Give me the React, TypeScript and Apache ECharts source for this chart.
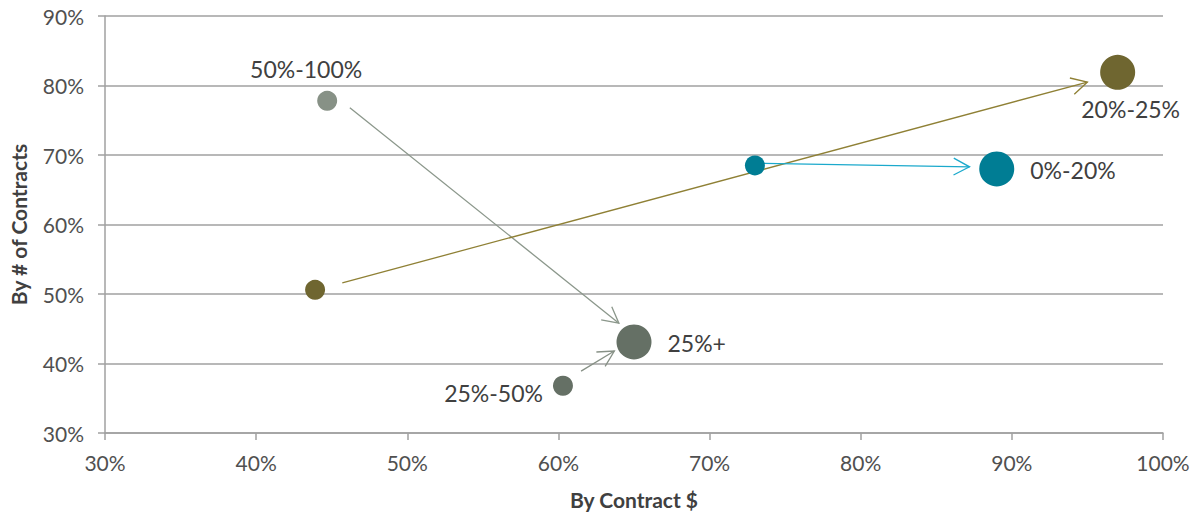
import React, { useEffect, useRef } from "react";
import * as echarts from "echarts";

// Bubble positions: share by contract $ (x) and by # of contracts (y), in %
const pointX = [44.7, 43.9, 73.0, 60.3, 89.0, 97.0, 65.0];
const pointY = [77.8, 50.6, 68.5, 36.8, 68.0, 81.9, 43.1];
const pointLabels = ["50%-100%", "", "", "25%-50%", "0%-20%", "20%-25%", "25%+"];

// Arrows showing the shift from one group to another (from -> to), in %
const arrowFromX = [46.2, 45.7, 73.6, 61.5];
const arrowFromY = [76.8, 51.6, 68.8, 38.9];
const arrowToX = [64.0, 95.0, 87.2, 63.7];
const arrowToY = [45.8, 80.5, 68.3, 41.8];

const xTicks = [30, 40, 50, 60, 70, 80, 90, 100];
const yTicks = [30, 40, 50, 60, 70, 80, 90];

const FONT = "Lato, 'Noto Sans', sans-serif";

const pointStyles = [
  { color: "#879186", size: 20, pos: "top", dist: 5, offset: [-21, -5] },
  { color: "#6f6630", size: 20, pos: "right", dist: 5, offset: [0, 0] },
  { color: "#007d94", size: 20, pos: "right", dist: 5, offset: [0, 0] },
  { color: "#657065", size: 20, pos: "left", dist: 10, offset: [0, 7] },
  { color: "#007d94", size: 35, pos: "right", dist: 16, offset: [0, 1] },
  { color: "#6f6630", size: 35, pos: "bottom", dist: 8, offset: [13, 0] },
  { color: "#657065", size: 35, pos: "right", dist: 16, offset: [0, 1] },
];

const arrowColors = ["#8b978b", "#8f8035", "#1ba9cc", "#879186"];

export default function App() {
  const ref = useRef<HTMLDivElement>(null);

  useEffect(() => {
    if (!ref.current) return;
    const chart = echarts.init(ref.current, null, { renderer: "svg" });

    const points = pointX.map((x, i) => ({
      value: [x, pointY[i]],
      symbolSize: pointStyles[i].size,
      itemStyle: { color: pointStyles[i].color, opacity: 1 },
      label: {
        show: pointLabels[i] !== "",
        formatter: pointLabels[i],
        position: pointStyles[i].pos,
        distance: pointStyles[i].dist,
        offset: pointStyles[i].offset,
        color: "#404040",
        fontSize: 23,
        fontFamily: FONT,
      },
    }));

    const arrows = arrowFromX.map((x, i) => ({
      value: [x, arrowFromY[i], arrowToX[i], arrowToY[i]],
    }));

    const axisGray = "#a0a0a0";

    const option: any = {
      animation: false,
      backgroundColor: "#ffffff",
      grid: { left: 105, right: 34, top: 16, bottom: 83 },
      xAxis: {
        type: "value",
        min: xTicks[0],
        max: xTicks[xTicks.length - 1],
        interval: 10,
        name: "By Contract $",
        nameLocation: "middle",
        nameGap: 56,
        nameTextStyle: { fontFamily: FONT, fontWeight: "bold", fontSize: 21, color: "#404040" },
        axisLine: { show: true, lineStyle: { color: axisGray, width: 1.5 } },
        axisTick: { show: true, length: 7, lineStyle: { color: axisGray, width: 1.5 } },
        axisLabel: {
          formatter: "{value}%",
          margin: 19,
          fontSize: 21,
          fontFamily: FONT,
          color: "#505050",
        },
        splitLine: { show: false },
      },
      yAxis: {
        type: "value",
        min: yTicks[0],
        max: yTicks[yTicks.length - 1],
        interval: 10,
        name: "By # of Contracts",
        nameLocation: "middle",
        nameGap: 76,
        nameTextStyle: { fontFamily: FONT, fontWeight: "bold", fontSize: 21, color: "#404040" },
        axisLine: { show: true, lineStyle: { color: axisGray, width: 1.5 } },
        axisTick: { show: true, length: 7, lineStyle: { color: axisGray, width: 1.5 } },
        axisLabel: {
          formatter: "{value}%",
          margin: 21,
          fontSize: 21,
          fontFamily: FONT,
          color: "#505050",
        },
        splitLine: { show: true, lineStyle: { color: axisGray, width: 1.5 } },
      },
      series: [
        {
          type: "custom",
          z: 2,
          encode: { x: [0, 2], y: [1, 3] },
          data: arrows,
          renderItem: (params: any, api: any) => {
            const p1 = api.coord([api.value(0), api.value(1)]);
            const p2 = api.coord([api.value(2), api.value(3)]);
            const ang = Math.atan2(p2[1] - p1[1], p2[0] - p1[0]);
            const len = 18;
            const spread = (28 * Math.PI) / 180;
            const color = arrowColors[params.dataIndex];
            const a1 = [p2[0] - len * Math.cos(ang - spread), p2[1] - len * Math.sin(ang - spread)];
            const a2 = [p2[0] - len * Math.cos(ang + spread), p2[1] - len * Math.sin(ang + spread)];
            return {
              type: "group",
              children: [
                {
                  type: "line",
                  shape: { x1: p1[0], y1: p1[1], x2: p2[0], y2: p2[1] },
                  style: { stroke: color, lineWidth: 1.3 },
                },
                {
                  type: "polyline",
                  shape: { points: [a1, p2, a2] },
                  style: { stroke: color, lineWidth: 1.3, fill: "none" },
                },
              ],
            };
          },
        },
        {
          type: "scatter",
          z: 3,
          data: points,
        },
      ],
    };

    chart.setOption(option);
    return () => chart.dispose();
  }, []);

  return (
    <div
      ref={ref}
      style={{ position: "absolute", left: 0, top: 0, width: 1197, height: 516, background: "#fff" }}
    />
  );
}
